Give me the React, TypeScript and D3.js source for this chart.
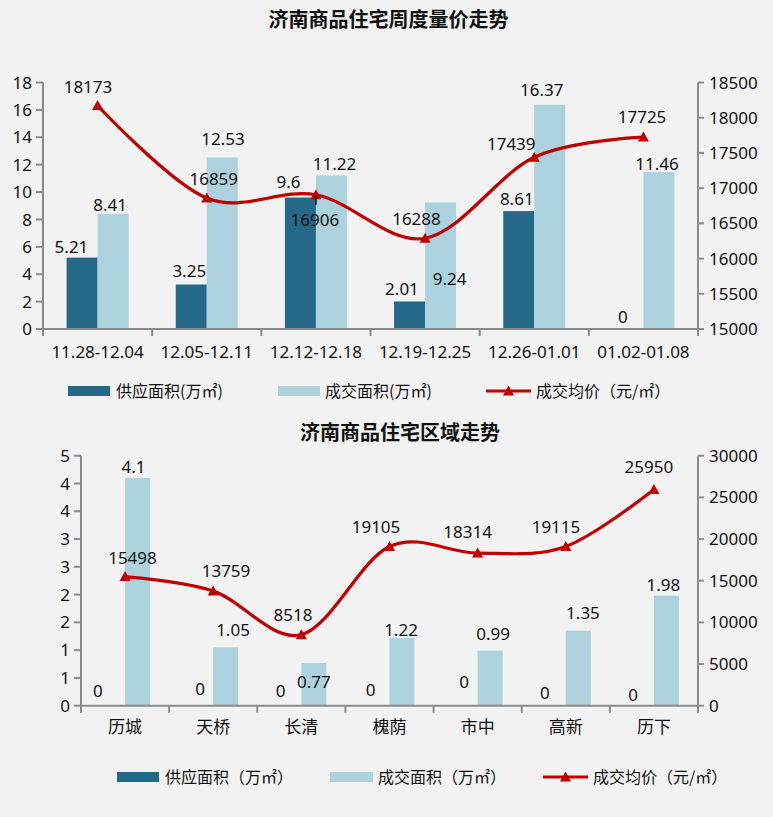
import React, { useEffect } from 'react';
import * as d3 from 'd3';

// ---------- data: weekly chart ----------
const weekCategories = ['11.28-12.04', '12.05-12.11', '12.12-12.18', '12.19-12.25', '12.26-01.01', '01.02-01.08'];
const weekSupply = [5.21, 3.25, 9.6, 2.01, 8.61, 0];
const weekDeal = [8.41, 12.53, 11.22, 9.24, 16.37, 11.46];
const weekPrice = [18173, 16859, 16906, 16288, 17439, 17725];
const weekLeftTicks = [0, 2, 4, 6, 8, 10, 12, 14, 16, 18];
const weekRightTicks = [15000, 15500, 16000, 16500, 17000, 17500, 18000, 18500];

// ---------- data: district chart ----------
const distCategories = ['历城', '天桥', '长清', '槐荫', '市中', '高新', '历下'];
const distSupply = [0, 0, 0, 0, 0, 0, 0];
const distDeal = [4.1, 1.05, 0.77, 1.22, 0.99, 1.35, 1.98];
const distPrice = [15498, 13759, 8518, 19105, 18314, 19115, 25950];
const distLeftTicks = [0, 0.5, 1, 1.5, 2, 2.5, 3, 3.5, 4, 4.5];
const distRightTicks = [0, 5000, 10000, 15000, 20000, 25000, 30000];

const titles = ['济南商品住宅周度量价走势', '济南商品住宅区域走势'];
const legendTop = ['供应面积(万㎡)', '成交面积(万㎡)', '成交均价（元/㎡）'];
const legendBottom = ['供应面积（万㎡）', '成交面积（万㎡）', '成交均价（元/㎡）'];

// ---------- label nudges (layout, px) ----------
const weekSupplyNudge: [number, number][] = [[-10.6, -4.7], [-2, -7.5], [-12, -9.5], [-7.6, -6.5], [-2, -6], [-5, -6]];
const weekDealNudge: [number, number][] = [[-3, -3], [0.7, -12.4], [3, -5.3], [9, 82.5], [-8, -8.8], [-2, -2]];
const weekPriceNudge: [number, number][] = [[-9.6, -12.5], [7, -13], [-1, 31.5], [-8.6, -13.3], [-23, -7.7], [-1.4, -14.5]];
const distSupplyNudge: [number, number][] = [[-14.6, -8.4], [-0.7, -10.7], [-8.2, -9], [-6.3, -10], [-1.1, -18], [-8.3, -6.4], [-8.4, -5]];
const distDealNudge: [number, number][] = [[-4, -4.7], [7.3, -11], [0, 25], [-1, -2], [3, -10.7], [4.7, -11.7], [-3, -5]];
const distPriceNudge: [number, number][] = [[7.4, -12.5], [12.8, -14.3], [-8.4, -13.7], [-13.5, -13.8], [-10, -15], [-9.8, -13.7], [-5, -16.5]];

const BG = '#f2f2f2';
const DARK = '#246987';
const LIGHT = '#acd2de';
const RED = '#c00000';
const AXIS = '#8a8a8a';
const TXT = '#111';
const FONT = "'Noto Sans', 'Noto Sans CJK SC', sans-serif";
const CJK = "'Noto Sans CJK SC', sans-serif";

function Tri({ x, y }: { x: number; y: number }) {
  return <path d={`M${x},${y - 5.5}L${x + 5.5},${y + 4.5}L${x - 5.5},${y + 4.5}Z`} fill={RED} />;
}

type Cfg = {
  cats: string[];
  supply: number[];
  deal: number[];
  price: number[];
  leftTicks: number[];
  rightTicks: number[];
  leftFmt: (v: number) => string;
  x0: number; x1: number; yTop: number; yBottom: number; barWidth: number;
  supplyNudge: [number, number][];
  dealNudge: [number, number][];
  priceNudge: [number, number][];
  catBaseline: number;
  leader?: number;
};

function Combo({ cfg }: { cfg: Cfg }) {
  const x = d3.scaleBand<string>().domain(cfg.cats).range([cfg.x0, cfg.x1]).padding(0);
  const lt = cfg.leftTicks, rt = cfg.rightTicks;
  const yL = d3.scaleLinear().domain([lt[0], lt[lt.length - 1]]).range([cfg.yBottom, cfg.yTop]);
  const yR = d3.scaleLinear().domain([rt[0], rt[rt.length - 1]]).range([cfg.yBottom, cfg.yTop]);
  const bw = cfg.barWidth;
  const cx = (i: number) => (x(cfg.cats[i]) as number) + x.bandwidth() / 2;
  const line = d3.line<number>().x((_, i) => cx(i)).y(d => yR(d)).curve(d3.curveCardinal.tension(0));
  const bounds = [...cfg.cats.map(c => x(c) as number), cfg.x1];
  return (
    <g>
      {cfg.supply.map((v, i) => (
        <rect key={'s' + i} x={cx(i) - bw} y={yL(v)} width={bw} height={cfg.yBottom - yL(v)} fill={DARK} />
      ))}
      {cfg.deal.map((v, i) => (
        <rect key={'d' + i} x={cx(i)} y={yL(v)} width={bw} height={cfg.yBottom - yL(v)} fill={LIGHT} />
      ))}
      {/* axes */}
      <g stroke={AXIS} strokeWidth={2} fill="none">
        <line x1={cfg.x0} x2={cfg.x0} y1={cfg.yTop} y2={cfg.yBottom} />
        <line x1={cfg.x1} x2={cfg.x1} y1={cfg.yTop} y2={cfg.yBottom} />
        <line x1={cfg.x0} x2={cfg.x1} y1={cfg.yBottom} y2={cfg.yBottom} />
        {lt.map((t, i) => <line key={'lt' + i} x1={cfg.x0 - 7} x2={cfg.x0} y1={yL(t)} y2={yL(t)} />)}
        {rt.map((t, i) => <line key={'rt' + i} x1={cfg.x1} x2={cfg.x1 + 6} y1={yR(t)} y2={yR(t)} />)}
        {bounds.map((b, i) => <line key={'bt' + i} x1={b} x2={b} y1={cfg.yBottom} y2={cfg.yBottom + 7} />)}
      </g>
      <g fontFamily={FONT} fontSize={17} fill={TXT}>
        {lt.map((t, i) => (
          <text key={'ll' + i} x={cfg.x0 - 11} y={yL(t)} dy="0.36em" textAnchor="end">{cfg.leftFmt(t)}</text>
        ))}
        {rt.map((t, i) => (
          <text key={'rl' + i} x={cfg.x1 + 11} y={yR(t)} dy="0.36em" textAnchor="start">{t}</text>
        ))}
        {cfg.cats.map((c, i) => (
          <text key={'cl' + i} x={cx(i)} y={cfg.catBaseline} textAnchor="middle">{c}</text>
        ))}
      </g>
      {/* line */}
      <path d={line(cfg.price) as string} fill="none" stroke={RED} strokeWidth={3.2} strokeLinejoin="round" />
      {cfg.price.map((v, i) => <Tri key={'m' + i} x={cx(i)} y={yR(v)} />)}
      {cfg.leader !== undefined && (
        <line x1={cx(cfg.leader)} x2={cx(cfg.leader)} y1={yR(cfg.price[cfg.leader])} y2={yR(cfg.price[cfg.leader]) + 10} stroke="#000" strokeWidth={1.5} />
      )}
      {/* data labels */}
      <g fontFamily={FONT} fontSize={17} fill={TXT} textAnchor="middle">
        {cfg.supply.map((v, i) => (
          <text key={'sl' + i} x={cx(i) - bw / 2 + cfg.supplyNudge[i][0]} y={yL(v) + cfg.supplyNudge[i][1]}>{v}</text>
        ))}
        {cfg.deal.map((v, i) => (
          <text key={'dl' + i} x={cx(i) + bw / 2 + cfg.dealNudge[i][0]} y={yL(v) + cfg.dealNudge[i][1]}>{v}</text>
        ))}
        {cfg.price.map((v, i) => (
          <text key={'pl' + i} x={cx(i) + cfg.priceNudge[i][0]} y={yR(v) + cfg.priceNudge[i][1]}>{v}</text>
        ))}
      </g>
    </g>
  );
}

function Legend({ labels, y, xs }: { labels: string[]; y: number; xs: number[][] }) {
  // xs: [swatchStart, swatchEnd, textStart] for each item
  return (
    <g fontFamily={CJK} fontSize={16} fill={TXT}>
      <rect x={xs[0][0]} y={y - 5} width={xs[0][1] - xs[0][0]} height={10} fill={DARK} />
      <text x={xs[0][2]} y={y} dy="0.36em">{labels[0]}</text>
      <rect x={xs[1][0]} y={y - 5} width={xs[1][1] - xs[1][0]} height={10} fill={LIGHT} />
      <text x={xs[1][2]} y={y} dy="0.36em">{labels[1]}</text>
      <line x1={xs[2][0]} x2={xs[2][1]} y1={y} y2={y} stroke={RED} strokeWidth={3.2} />
      <Tri x={(xs[2][0] + xs[2][1]) / 2} y={y} />
      <text x={xs[2][2]} y={y} dy="0.36em">{labels[2]}</text>
    </g>
  );
}

export default function App() {
  useEffect(() => {
    document.body.style.margin = '0';
    document.body.style.background = BG;
  }, []);

  const top: Cfg = {
    cats: weekCategories, supply: weekSupply, deal: weekDeal, price: weekPrice,
    leftTicks: weekLeftTicks, rightTicks: weekRightTicks, leftFmt: v => String(v),
    x0: 43, x1: 698, yTop: 82.5, yBottom: 329, barWidth: 31,
    supplyNudge: weekSupplyNudge, dealNudge: weekDealNudge, priceNudge: weekPriceNudge,
    catBaseline: 358, leader: 2,
  };
  const bottom: Cfg = {
    cats: distCategories, supply: distSupply, deal: distDeal, price: distPrice,
    leftTicks: distLeftTicks, rightTicks: distRightTicks, leftFmt: v => String(Math.round(v)),
    x0: 81, x1: 698, yTop: 455.7, yBottom: 705.7, barWidth: 25,
    supplyNudge: distSupplyNudge, dealNudge: distDealNudge, priceNudge: distPriceNudge,
    catBaseline: 733,
  };

  return (
    <svg width={773} height={817} style={{ display: 'block', background: BG }}>
      <rect x={0} y={0} width={773} height={817} fill={BG} />
      <text x={388.5} y={27} textAnchor="middle" fontFamily={CJK} fontWeight={700} fontSize={20} fill={TXT}>{titles[0]}</text>
      <Combo cfg={top} />
      <Legend labels={legendTop} y={391} xs={[[68, 110, 116], [278, 320, 325], [486, 531, 536]]} />
      <text x={400} y={440} textAnchor="middle" fontFamily={CJK} fontWeight={700} fontSize={20} fill={TXT}>{titles[1]}</text>
      <Combo cfg={bottom} />
      <Legend labels={legendBottom} y={777} xs={[[117, 159, 165], [330, 373, 378], [543, 588, 593]]} />
    </svg>
  );
}
